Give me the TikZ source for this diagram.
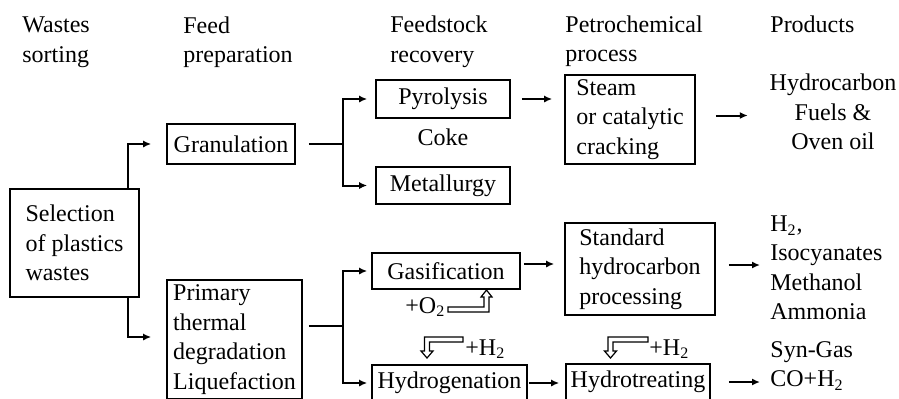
\documentclass[tikz,border=0pt]{standalone}
\usepackage{fontspec}
\setmainfont{Liberation Serif}
\usetikzlibrary{arrows.meta,calc}
\begin{document}
\begin{tikzpicture}[x=0.5pt,y=-0.5pt,
  font=\fontsize{12}{14.75}\selectfont,
  box/.style={draw, line width=0.8pt, inner sep=0pt, align=left},
  lbl/.style={inner sep=0pt, align=left},
  arr/.style={line width=1pt, -{Latex[length=4pt,width=3.5pt]}},
  ln/.style={line width=1pt},
  hollow/.style={draw, line width=0.6pt, fill=white, line join=miter}]
\useasboundingbox (0,0) rectangle (899,398);
\clip (0,0) rectangle (899,398);

% headers
\node[lbl, anchor=west] (h1) at (22,42) {Wastes\\sorting};
\node[lbl, anchor=west] (h2) at (183,42) {Feed\\preparation};
\node[lbl, anchor=west] (h3) at (390,42) {Feedstock\\recovery};
\node[lbl, anchor=west] (h4) at (565,41) {Petrochemical\\process};
\node[lbl, anchor=west] (h5) at (770,24.5) {Products};

% boxes
\node[box, minimum width=64.5pt, minimum height=54pt] (sel) at (74.5,243) {Selection\\of plastics\\wastes};
\node[box, minimum width=64pt, minimum height=20pt] (gran) at (231,144) {Granulation};
\node[box, minimum width=67.5pt, minimum height=59.5pt] (prim) at (234.5,339.5) {Primary\\thermal\\degradation\\Liquefaction};
\node[box, minimum width=67pt, minimum height=19pt] (pyro) at (443,99) {Pyrolysis};
\node[lbl] (coke) at (443,137) {Coke};
\node[box, minimum width=67pt, minimum height=18.5pt] (metal) at (443,185.5) {Metallurgy};
\node[box, minimum width=74pt, minimum height=18pt] (gas) at (446,271) {Gasification};
\node[box, minimum width=77.5pt, minimum height=18pt] (hydg) at (449.5,383) {Hydrogenation};
\node[box, minimum width=65pt, minimum height=44.5pt] (steam) at (630,119.5) {Steam\\or catalytic\\cracking};
\node[box, minimum width=75pt, minimum height=46pt] (std) at (640,269) {Standard\\hydrocarbon\\processing};
\node[box, minimum width=72pt, minimum height=18pt] (hydt) at (638,382) {Hydrotreating};

% products
\node[lbl, align=center] (p1) at (833,112) {Hydrocarbon\\Fuels \&\\Oven oil};
\node[lbl, anchor=west] (p2) at (770,268) {H\textsubscript{2},\\Isocyanates\\Methanol\\Ammonia};
\node[lbl, anchor=west] (p3) at (770,366) {Syn-Gas\\CO+H\textsubscript{2}};

% reagent labels
\node[lbl, anchor=base west] (o2) at (405,313) {+O\textsubscript{2}};
\node[lbl, anchor=base west] (h2a) at (465,355) {+H\textsubscript{2}};
\node[lbl, anchor=base west] (h2b) at (649,355) {+H\textsubscript{2}};

% connectors
\draw[arr, shorten >=7.5pt] ([xshift=-6pt]sel.north east) |- (gran.west);
\draw[arr, shorten >=7.5pt] ([xshift=-6pt]sel.south east) |- ([yshift=1.25pt]prim.west);

\coordinate (b1) at (343,144);
\draw[ln, shorten <=6.5pt] (gran.east) -- (b1);
\draw[arr, shorten >=4pt] (b1) |- (pyro.west);
\draw[arr, shorten >=4pt] (b1) |- (metal.west);

\coordinate (b2) at (343,326);
\draw[ln, shorten <=3pt] (prim.east |- b2) -- (b2);
\draw[arr, shorten >=2pt] (b2) |- (gas.west);
\draw[arr, shorten >=2pt] (b2) |- (hydg.west);

\draw[arr, shorten <=5.5pt, shorten >=6pt] (pyro.east) -- (pyro.east -| steam.west);
\draw[arr, shorten <=10pt, shorten >=10.75pt] ([yshift=2pt]steam.east) -- ([yshift=2pt]steam.east -| p1.west);
\draw[arr, shorten <=1.5pt, shorten >=5pt] ([yshift=3.5pt]gas.east) -- ([yshift=3.5pt]gas.east -| std.west);
\draw[arr, shorten <=6.5pt, shorten >=5pt] ([yshift=2pt]std.east) -- ([yshift=2pt]std.east -| p2.west);
\draw[arr, shorten <=0.5pt, shorten >=3pt] (hydg.east) -- (hydg.east -| hydt.west);
\draw[arr, shorten <=9pt, shorten >=5pt] (hydt.east) -- (hydt.east -| p3.west);

% hollow feed arrows
\draw[hollow] (448,307) -- (484,307) -- (484,297) -- (481,297) -- (486.5,290) -- (492,297) -- (489,297) -- (489,312) -- (448,312) -- cycle;
\draw[hollow] (463,337) -- (424.5,337) -- (424.5,351) -- (421,351) -- (427,358) -- (433,351) -- (429.5,351) -- (429.5,342) -- (463,342) -- cycle;
\draw[hollow] (648,337) -- (608,337) -- (608,351) -- (604.5,351) -- (610.5,358) -- (616.5,351) -- (613,351) -- (613,342) -- (648,342) -- cycle;
\end{tikzpicture}
\end{document}
